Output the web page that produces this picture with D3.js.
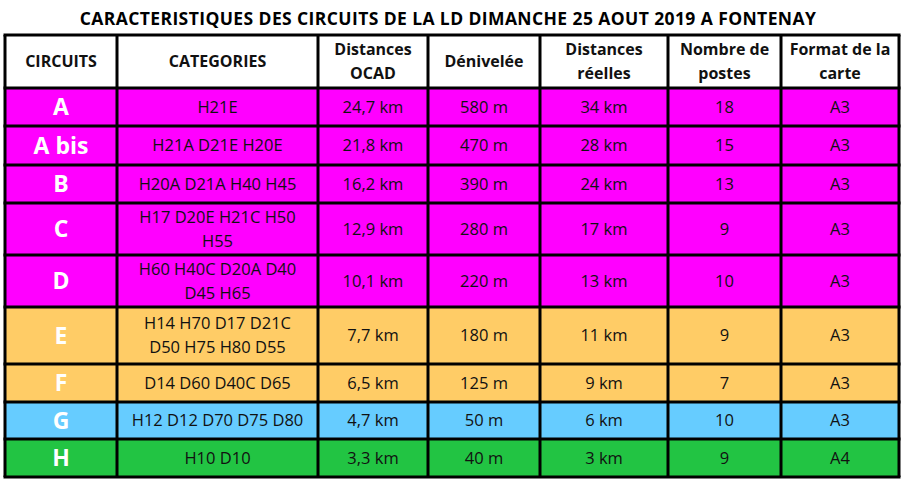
<!DOCTYPE html>
<html><head><meta charset="utf-8">
<script src="https://cdn.jsdelivr.net/npm/d3@7"></script>
<style>body{margin:0;background:#fff}</style></head>
<body><svg id="c" width="905" height="484"></svg>
<script>
const title = "CARACTERISTIQUES DES CIRCUITS DE LA LD DIMANCHE 25 AOUT 2019 A FONTENAY";
const headers = [["CIRCUITS"],["CATEGORIES"],["Distances","OCAD"],["Dénivelée"],["Distances","réelles"],["Nombre de","postes"],["Format de la","carte"]];
const circuits = ["A","A bis","B","C","D","E","F","G","H"];
const categories = [["H21E"],["H21A D21E H20E"],["H20A D21A H40 H45"],["H17 D20E H21C H50","H55"],["H60 H40C D20A D40","D45 H65"],["H14 H70 D17 D21C","D50 H75 H80 D55"],["D14 D60 D40C D65"],["H12 D12 D70 D75 D80"],["H10 D10"]];
const ocad = ["24,7 km","21,8 km","16,2 km","12,9 km","10,1 km","7,7 km","6,5 km","4,7 km","3,3 km"];
const denivele = ["580 m","470 m","390 m","280 m","220 m","180 m","125 m","50 m","40 m"];
const reelles = ["34 km","28 km","24 km","17 km","13 km","11 km","9 km","6 km","3 km"];
const postes = ["18","15","13","9","10","9","7","10","9"];
const format = ["A3","A3","A3","A3","A3","A3","A3","A3","A4"];
const groups = ["m","m","m","m","m","o","o","b","g"];
const colors = {m:"#FF00FF",o:"#FFCC66",b:"#66CCFF",g:"#22C443"};

const svg = d3.select("#c");
const colEdges = [5,117,318,428,540,668,781,899];
const rowEdges = [35,88,126,165,203,255,307,364,402,439,477];

svg.append("text").attr("x",448).attr("y",25).attr("text-anchor","middle")
  .attr("font-family","Open Sans").attr("font-weight",700).attr("font-size",17.5)
  .attr("letter-spacing",0.4).text(title);

function cellText(lines,ci,ri,opts={}){
  const x=(colEdges[ci]+colEdges[ci+1])/2, y0=rowEdges[ri], y1=rowEdges[ri+1];
  const lh=opts.lh||24, n=lines.length, cy=(y0+y1)/2;
  lines.forEach((l,i)=>{
    svg.append("text").attr("x",x).attr("y",cy+(i-(n-1)/2)*lh).attr("dy","0.36em")
      .attr("text-anchor","middle").attr("font-family","Open Sans")
      .attr("font-weight",opts.w||500).attr("font-size",opts.fs||16.5)
      .attr("fill",opts.fill||"#111").text(l);
  });
}
headers.forEach((h,ci)=>cellText(h,ci,0,{w:700,lh:24,fs:16}));
circuits.forEach((c,i)=>{
  const ri=i+1;
  svg.append("rect").attr("x",colEdges[0]).attr("y",rowEdges[ri]).attr("width",colEdges[7]-colEdges[0])
    .attr("height",rowEdges[ri+1]-rowEdges[ri]).attr("fill",colors[groups[i]]);
  cellText([c],0,ri,{w:700,fs:23,fill:"#fff"});
  cellText(categories[i],1,ri,{lh:24});
  [ocad,denivele,reelles,postes,format].forEach((arr,k)=>cellText([arr[i]],k+2,ri));
});
colEdges.forEach(x=>svg.append("line").attr("x1",x).attr("x2",x).attr("y1",rowEdges[0]).attr("y2",rowEdges[rowEdges.length-1]).attr("stroke","#000").attr("stroke-width",3));
rowEdges.forEach(y=>svg.append("line").attr("x1",colEdges[0]-1.5).attr("x2",colEdges[7]+1.5).attr("y1",y).attr("y2",y).attr("stroke","#000").attr("stroke-width",3));
</script></body></html>
